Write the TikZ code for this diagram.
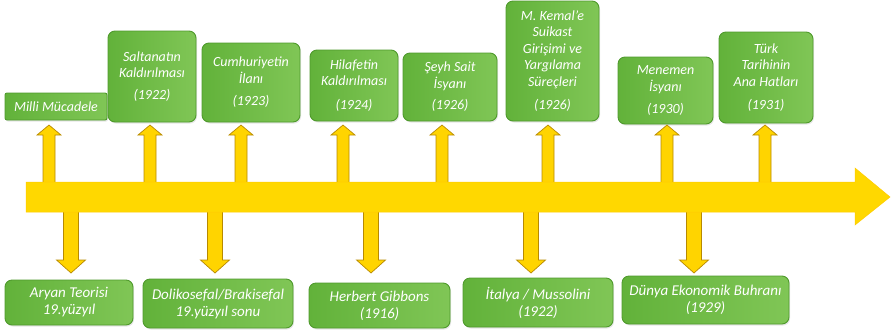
\documentclass[tikz,border=0pt]{standalone}
\usepackage{fontspec}
\setmainfont{Carlito}
\usetikzlibrary{shadows}
\definecolor{gborder}{HTML}{4F9A2C}
\definecolor{gleft}{HTML}{62B23A}
\definecolor{gright}{HTML}{80C656}
\definecolor{yfill}{HTML}{FFD400}
\definecolor{yedge}{HTML}{B88A00}
\definecolor{ymain}{HTML}{FFD800}
\tikzset{
  gbox/.style={draw=gborder, line width=0.9pt, rounded corners=7pt,
    left color=gleft, right color=gright, text=white, align=center,
    inner sep=0pt, drop shadow={opacity=0.2, shadow xshift=1pt, shadow yshift=-1.5pt},
    font=\itshape\fontsize{14}{16.5}\selectfont},
  lowbox/.style={gbox, font=\itshape\fontsize{15}{17}\selectfont},
  smallarr/.style={fill=yfill, draw=yedge, line width=0.7pt, line join=miter},
  mainarr/.style={fill=ymain, draw=ymain!85!orange, line width=0.5pt}
}
\begin{document}
\begin{tikzpicture}[x=1pt, y=-1pt]
\useasboundingbox (0,0) rectangle (891,333);
% top boxes
\node[gbox, rounded corners=2pt, minimum width=102pt, minimum height=27pt] (t1) at (56,106.5) {Milli Mücadele};
\node[gbox, minimum width=88pt, minimum height=91pt] (t2) at (152,76.5) {Saltanatın\\Kaldırılması\\[5pt](1922)};
\node[gbox, minimum width=98pt, minimum height=79pt] (t3) at (251,82.5) {Cumhuriyetin\\İlanı\\[6pt](1923)};
\node[gbox, minimum width=88pt, minimum height=71pt] (t4) at (354,85.5) {Hilafetin\\Kaldırılması\\[7pt](1924)};
\node[gbox, minimum width=94pt, minimum height=68pt] (t5) at (450,87) {Şeyh Sait\\İsyanı\\[5pt](1926)};
\node[gbox, minimum width=93pt, minimum height=120pt] (t6) at (552.5,61) {M. Kemal’e\\Suikast\\Girişimi ve\\Yargılama\\Süreçleri\\[7pt](1926)};
\node[gbox, minimum width=95pt, minimum height=67pt] (t7) at (665.5,90.5) {Menemen\\İsyanı\\[6pt](1930)};
\node[gbox, minimum width=94pt, minimum height=91pt] (t8) at (766,77.5) {Türk\\Tarihinin\\Ana Hatları\\[7pt](1931)};
% bottom boxes
\node[lowbox, minimum width=128pt, minimum height=45pt] (b1) at (69,302.5) {Aryan Teorisi\\19.yüzyıl};
\node[lowbox, minimum width=150pt, minimum height=49pt] (b2) at (218,303.5) {Dolikosefal/Brakisefal\\19.yüzyıl sonu};
\node[lowbox, minimum width=141pt, minimum height=45pt] (b3) at (379.5,305.5) {Herbert Gibbons\\(1916)};
\node[lowbox, minimum width=150pt, minimum height=49pt] (b4) at (538,302.5) {İtalya / Mussolini\\(1922)};
\node[lowbox, minimum width=167pt, minimum height=48pt] (b5) at (705.5,300) {Dünya Ekonomik Buhranı\\(1929)};
% up arrows
\foreach \x in {49,150,241,343,442,548,667,765}{
  \draw[smallarr] (\x-6,184) -- (\x-6,135) -- (\x-12,135) -- (\x,125) -- (\x+12,135) -- (\x+6,135) -- (\x+6,184) -- cycle;
}
% down arrows
\foreach \x in {71,215,371,531,694}{
  \draw[smallarr] (\x-7.5,210) -- (\x-7.5,260) -- (\x-14.5,260) -- (\x,273) -- (\x+14.5,260) -- (\x+7.5,260) -- (\x+7.5,210) -- cycle;
}
% main arrow
\draw[mainarr] (26,182) -- (855,182) -- (855,168) -- (890,197) -- (855,225) -- (855,212) -- (26,212) -- cycle;
\end{tikzpicture}
\end{document}
